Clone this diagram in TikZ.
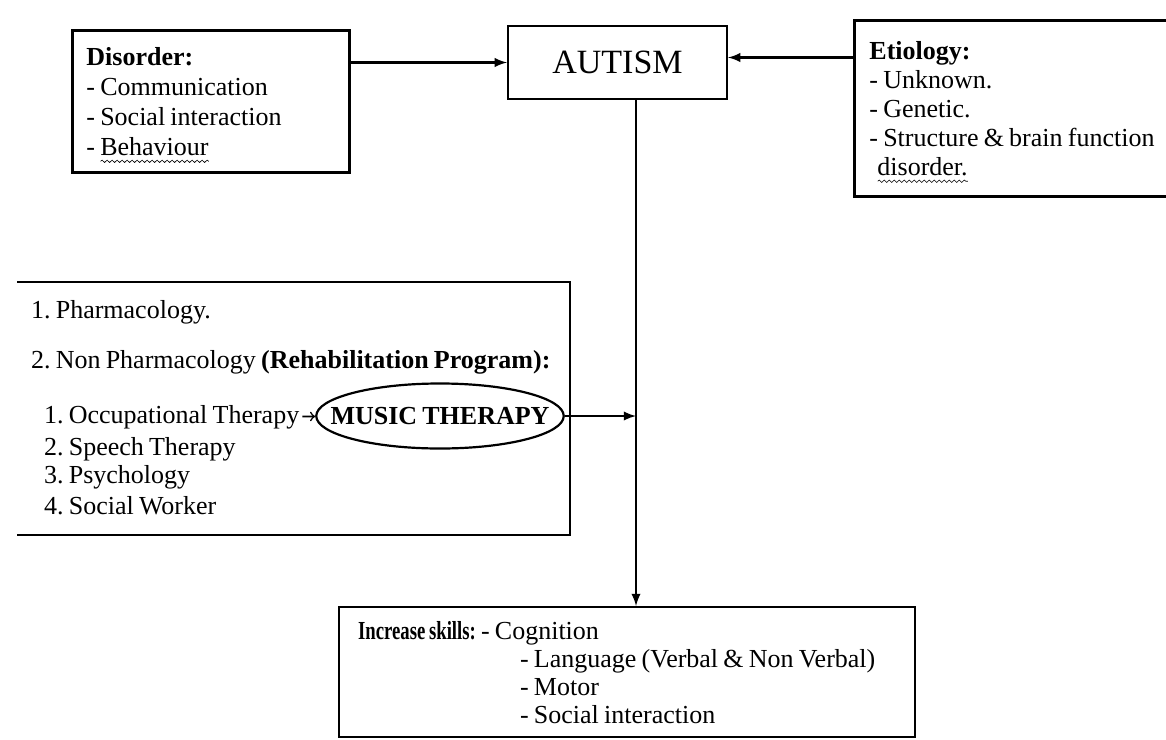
\documentclass[tikz,border=0pt]{standalone}
\usepackage{fontspec}
\setmainfont{Liberation Serif}[WordSpace=0.8]
\frenchspacing
\usetikzlibrary{shapes.geometric,decorations.pathmorphing}
\newlength\wavywd
\newcommand\wavyul[1]{\settowidth\wavywd{#1}\leavevmode\rlap{\smash{\raisebox{-3pt}{\tikz[baseline=0pt]\draw[line width=0.3pt, decorate, decoration={snake, amplitude=0.6pt, segment length=2.5pt}] (0pt,0pt) -- (\wavywd,0pt);}}}#1}

\begin{document}
\begin{tikzpicture}[x=0.5pt, y=-0.5pt, line width=1.1pt,
		txt/.style={inner sep=1pt, font=\fontsize{13}{15}\selectfont},
		box/.style={draw, anchor=north west, align=flush left, font=\fontsize{13}{15}\selectfont}]
	\useasboundingbox (0,0) rectangle (1166,739);
	\node[box, inner xsep=7pt, text width=124.5pt, minimum height=71pt] (dis) at (72,30) {\textbf{Disorder:}\\- Communication\\- Social interaction\\- \wavyul{Behaviour}};
	\node[draw, minimum width=109.5pt, minimum height=36.5pt, font=\fontsize{17}{20}\selectfont] (aut) at (617.5,62.5) {AUTISM};
	\node[box, inner xsep=7.5pt, text width=150pt, minimum height=88pt, font=\fontsize{13}{14.5}\selectfont] (eti) at (854,20) {\textbf{Etiology:}\\- Unknown.\\- Genetic.\\- Structure \& brain function\\\hspace*{4pt}\wavyul{disorder.}};
	\draw[-latex] (dis.east |- aut.west) -- (aut.west);
	\coordinate (ea) at ([yshift=2.5pt]aut.east);
	\draw[latex-] (ea) -- (ea -| eti.west);
	\node[anchor=north west, minimum width=275.5pt, minimum height=125.5pt, inner sep=0pt] (tx) at (17,282) {};
	\draw (tx.north west) -- (tx.north east) -- (tx.south east) -- (tx.south west);
	\node[txt, anchor=west] (ph1) at (28,312) {1. Pharmacology.};
	\node[txt, anchor=west] (ph2) at (28,362) {2. Non Pharmacology \textbf{(Rehabilitation Program):}};
	\node[txt, anchor=west] (ot) at (41,417) {1. Occupational Therapy};
	\node[txt, anchor=west] (st) at (41,449) {2. Speech Therapy};
	\node[txt, anchor=west] (psy) at (41,477) {3. Psychology};
	\node[txt, anchor=west] (sw) at (41,506) {4. Social Worker};
	\node[draw, ellipse, inner xsep=-11pt, inner ysep=0pt, minimum height=32.5pt, font=\fontsize{13}{15}\selectfont\bfseries] (mt) at (440,416) {MUSIC THERAPY};
	\draw[->, line width=0.8pt] (ot) -- (mt);
	\coordinate (j) at (636,416);
	\draw[-latex] (mt.east) -- (mt.east -| j);
	\node[box, inner xsep=9.5pt, text width=269pt, minimum height=65pt, font=\fontsize{13}{14}\selectfont] (inc) at (338,606) {\scalebox{0.72}[1]{\textbf{Increase skills:}} - Cognition\\\hspace*{81pt}- Language (Verbal \& Non Verbal)\\\hspace*{81pt}- Motor\\\hspace*{81pt}- Social interaction};
	\draw[-latex] (aut.south -| j) -- (inc.north -| j);
\end{tikzpicture}
\end{document}
